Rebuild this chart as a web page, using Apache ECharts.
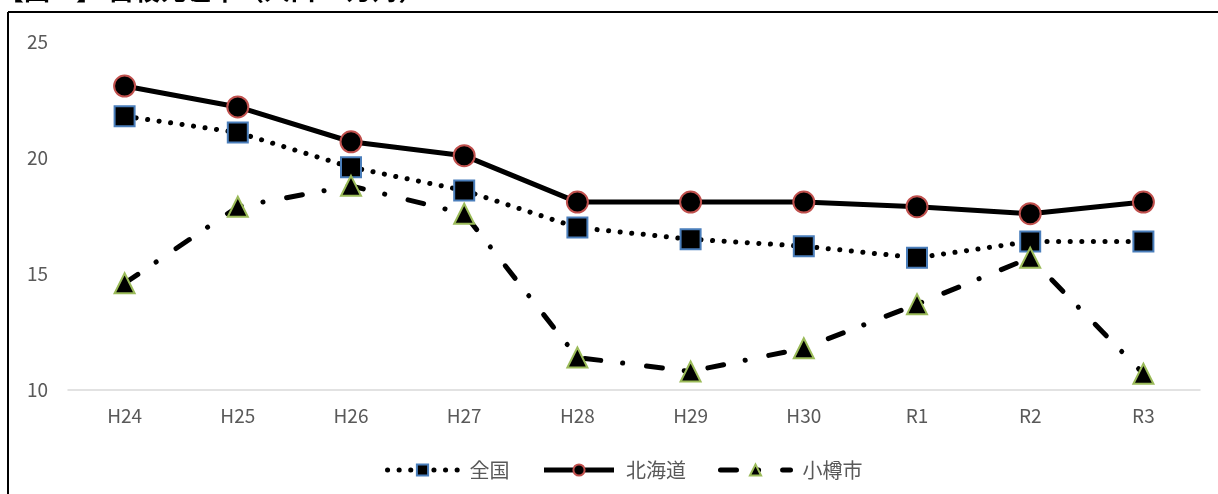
<!DOCTYPE html>
<html><head><meta charset="utf-8">
<script src="https://cdn.jsdelivr.net/npm/echarts@6/dist/echarts.min.js"></script>
<style>html,body{margin:0;padding:0;background:#fff}#c{width:1218px;height:494px}</style>
</head><body><div id="c"></div>
<script>
const titleText = '【図１】 自殺死亡率（人口10万対）';
const categories = ['H24','H25','H26','H27','H28','H29','H30','R1','R2','R3'];
const zenkoku = [21.8,21.1,19.6,18.6,17.0,16.5,16.2,15.7,16.4,16.4];
const hokkaido = [23.1,22.2,20.7,20.1,18.1,18.1,18.1,17.9,17.6,18.1];
const otaru = [14.6,17.9,18.8,17.6,11.4,10.8,11.8,13.7,15.7,10.7];
const yTicks = [10,15,20,25];

const font = "'Noto Sans CJK JP','Noto Sans',sans-serif";
const dotted = {color:'#000',width:5,type:[0.1,11.5],cap:'round'};
const solid = {color:'#000',width:5};
const dashdot = {color:'#000',width:5,type:[16,22,0.1,24],cap:'round'};
const chart = echarts.init(document.getElementById('c'), null, {renderer:'canvas'});
chart.setOption({
  animation:false,
  backgroundColor:'#fff',
  graphic:[
    {type:'text', left:-2, top:-23, style:{text:titleText, font:"bold 26px 'Noto Sans CJK JP'", fill:'#000'}},
    {type:'line', shape:{x1:8,y1:12,x2:1230,y2:12}, style:{stroke:'#000',lineWidth:2}},
    {type:'line', shape:{x1:8,y1:12,x2:8,y2:500}, style:{stroke:'#000',lineWidth:2}}
  ],
  grid:{left:68,right:18,top:42,bottom:104},
  legend:{
    top:455, left:380, itemWidth:70, itemHeight:14, itemGap:32,
    textStyle:{fontFamily:font,fontSize:20,color:'#595959',padding:[0,0,0,7]},
    data:[
      {name:'全国', lineStyle:{width:5,type:[0.1,11.5],cap:'round'}},
      {name:'北海道', lineStyle:{width:5}},
      {name:'小樽市', lineStyle:{width:5,type:[16,22,0.1,24],cap:'round'}}
    ]
  },
  xAxis:{
    type:'category', data:categories, boundaryGap:true,
    axisLine:{lineStyle:{color:'#d9d9d9',width:1.5}},
    axisTick:{show:false},
    axisLabel:{fontFamily:font,fontSize:19,color:'#595959',margin:16}
  },
  yAxis:{
    type:'value', min:yTicks[0], max:yTicks[yTicks.length-1], interval:5,
    axisLine:{show:false}, axisTick:{show:false}, splitLine:{show:false},
    axisLabel:{fontFamily:font,fontSize:19,color:'#595959',margin:20}
  },
  series:[
    {name:'全国', type:'line', data:zenkoku, symbol:'rect', symbolSize:20,
     itemStyle:{color:'#000',borderColor:'#4a7ebb',borderWidth:2},
     lineStyle:dotted, z:3},
    {name:'北海道', type:'line', data:hokkaido, symbol:'circle', symbolSize:21,
     itemStyle:{color:'#000',borderColor:'#c0504d',borderWidth:2},
     lineStyle:solid, z:2},
    {name:'小樽市', type:'line', data:otaru, symbol:'triangle', symbolSize:20,
     itemStyle:{color:'#000',borderColor:'#9bbb59',borderWidth:2},
     lineStyle:dashdot, z:4}
  ]
});
</script></body></html>
